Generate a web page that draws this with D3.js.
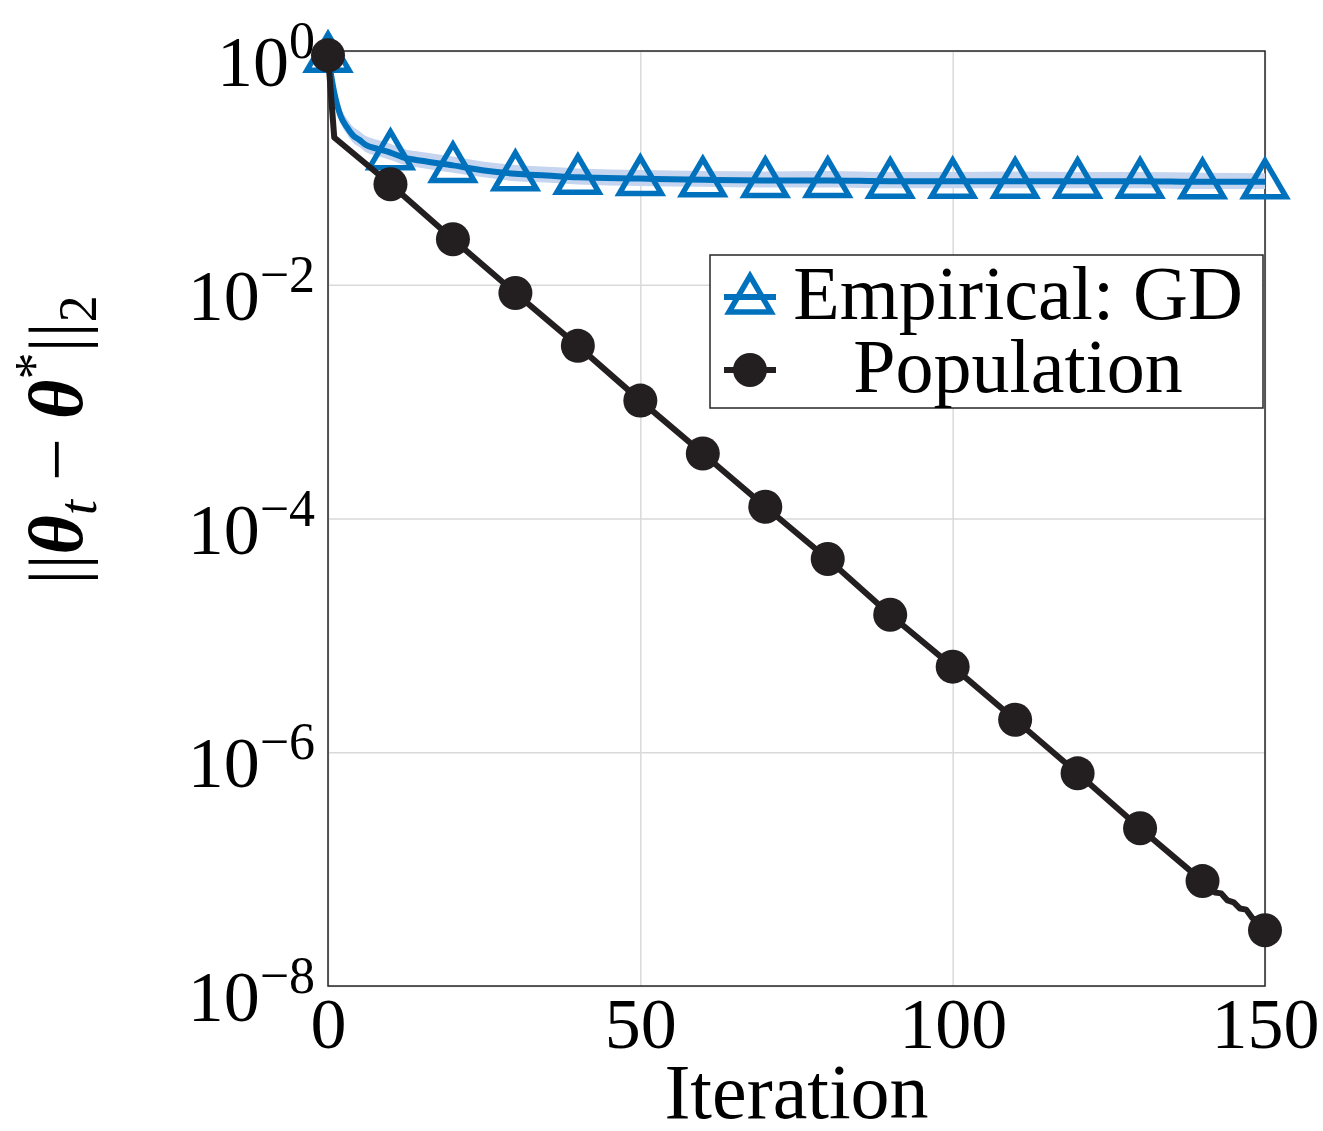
<!DOCTYPE html>
<html>
<head>
<meta charset="utf-8">
<script src="https://cdn.jsdelivr.net/npm/d3@7"></script>
<style>
  body { margin: 0; background: #fff; }
  text { font-family: "Liberation Serif", "DejaVu Serif", serif; fill: #000; }
</style>
</head>
<body>
<div id="wrapper"></div>
<script>
// data
const iterTicks = [0, 50, 100, 150];
const errTicks = [1, 1e-2, 1e-4, 1e-6, 1e-8];
const errTickExp = ["0", "\u22122", "\u22124", "\u22126", "\u22128"];

const empIter = [0, 1, 2, 3, 4, 5, 6, 8, 10, 12, 15, 20, 25, 30, 35, 40, 50, 60, 70, 80, 90, 100, 110, 120, 130, 140, 150];
const empMean = [0.92, 0.44, 0.28, 0.224, 0.19, 0.174, 0.158, 0.145, 0.135, 0.123, 0.115, 0.105, 0.095, 0.089, 0.086, 0.083, 0.081, 0.079, 0.078, 0.078, 0.077, 0.077, 0.077, 0.077, 0.077, 0.076, 0.076];
const empHigh = [0.95, 0.53, 0.33, 0.265, 0.225, 0.207, 0.188, 0.173, 0.161, 0.146, 0.137, 0.125, 0.113, 0.106, 0.102, 0.099, 0.096, 0.094, 0.093, 0.094, 0.092, 0.092, 0.093, 0.092, 0.092, 0.091, 0.090];
const empLow = [0.89, 0.38, 0.245, 0.195, 0.165, 0.151, 0.137, 0.126, 0.117, 0.107, 0.100, 0.091, 0.083, 0.077, 0.075, 0.072, 0.070, 0.069, 0.068, 0.068, 0.067, 0.067, 0.067, 0.067, 0.067, 0.066, 0.066];

const popIter = [0, 1, 10, 20, 30, 40, 50, 60, 70, 80, 90, 100, 110, 120, 130, 140, 142, 143, 144, 145, 146, 147, 148, 149, 150];
const popErr = [0.92, 0.182, 0.0724, 0.0245, 8.5e-3, 3.0e-3, 1.02e-3, 3.6e-4, 1.26e-4, 4.5e-5, 1.5e-5, 5.4e-6, 1.9e-6, 6.6e-7, 2.24e-7, 7.9e-8, 6.3e-8, 6.2e-8, 5.4e-8, 5.2e-8, 4.6e-8, 4.5e-8, 3.8e-8, 3.6e-8, 3.0e-8];

const seriesNames = ["Empirical: GD", "Population"];

// dimensions
let dimensions = {
  width: 1323,
  height: 1131,
  margin: { top: 51, right: 58, bottom: 145, left: 328 },
};
dimensions.boundedWidth = dimensions.width - dimensions.margin.left - dimensions.margin.right;
dimensions.boundedHeight = dimensions.height - dimensions.margin.top - dimensions.margin.bottom;

const blue = "#0072bd";
const black = "#231f20";

const wrapper = d3.select("#wrapper").append("svg")
  .attr("width", dimensions.width)
  .attr("height", dimensions.height);

const bounds = wrapper.append("g")
  .attr("transform", `translate(${dimensions.margin.left},${dimensions.margin.top})`);

// scales
const xScale = d3.scaleLinear().domain([0, 150]).range([0, dimensions.boundedWidth]);
const yScale = d3.scaleLog().domain([1e-8, 1]).range([dimensions.boundedHeight, 0]);

// grid
bounds.append("g")
  .call(d3.axisBottom(xScale).tickValues(iterTicks).tickSize(dimensions.boundedHeight).tickFormat(""))
  .call(g => g.select(".domain").remove())
  .call(g => g.selectAll("line").attr("stroke", "#d9d9d9").attr("stroke-width", 1.5));
bounds.append("g")
  .call(d3.axisLeft(yScale).tickValues(errTicks).tickSize(-dimensions.boundedWidth).tickFormat(""))
  .call(g => g.select(".domain").remove())
  .call(g => g.selectAll("line").attr("stroke", "#d9d9d9").attr("stroke-width", 1.5));

// box
bounds.append("rect")
  .attr("width", dimensions.boundedWidth)
  .attr("height", dimensions.boundedHeight)
  .attr("fill", "none")
  .attr("stroke", "#262626")
  .attr("stroke-width", 1.5);

// tick labels
const xAxis = bounds.append("g")
  .attr("transform", `translate(0,${dimensions.boundedHeight})`)
  .call(d3.axisBottom(xScale).tickValues(iterTicks).tickSize(0).tickFormat(d3.format("d")))
  .call(g => g.select(".domain").remove());
xAxis.selectAll("text")
  .attr("y", 62).attr("dy", null)
  .style("font-size", "72px")
  .style("font-family", "Liberation Serif");

const yLabels = bounds.append("g");
errTicks.forEach((v, i) => {
  const t = yLabels.append("text")
    .attr("x", -13)
    .attr("y", yScale(v) + 35)
    .attr("text-anchor", "end")
    .style("font-size", "72px");
  t.append("tspan").text("10");
  t.append("tspan").attr("dy", -28).style("font-size", "52px").text(errTickExp[i]);
});

// empirical band + line
const bandData = empIter.map((t, i) => ({ t, lo: empLow[i], hi: empHigh[i] }));
bounds.append("path")
  .datum(bandData)
  .attr("fill", "#c5d4ef")
  .attr("d", d3.area().x(d => xScale(d.t)).y0(d => yScale(d.lo)).y1(d => yScale(d.hi)).curve(d3.curveMonotoneX));

const empData = empIter.map((t, i) => ({ t, v: empMean[i] }));
bounds.append("path")
  .datum(empData)
  .attr("fill", "none")
  .attr("stroke", blue)
  .attr("stroke-width", 6)
  .attr("d", d3.line().x(d => xScale(d.t)).y(d => yScale(d.v)).curve(d3.curveMonotoneX));

const triPath = "M0,-21L21,15L-21,15Z";
bounds.selectAll(".tri")
  .data(empData.filter(d => d.t % 10 === 0))
  .enter().append("path")
  .attr("class", "tri")
  .attr("transform", d => `translate(${xScale(d.t)},${yScale(d.v)})`)
  .attr("d", triPath)
  .attr("fill", "none")
  .attr("stroke", blue)
  .attr("stroke-width", 5.5);

// population line
const popData = popIter.map((t, i) => ({ t, v: popErr[i] }));
bounds.append("path")
  .datum(popData)
  .attr("fill", "none")
  .attr("stroke", black)
  .attr("stroke-width", 6)
  .attr("stroke-linejoin", "round")
  .attr("d", d3.line().x(d => xScale(d.t)).y(d => yScale(d.v)));

bounds.selectAll(".dot")
  .data(popData.filter(d => d.t % 10 === 0))
  .enter().append("circle")
  .attr("class", "dot")
  .attr("cx", d => xScale(d.t))
  .attr("cy", d => yScale(d.v))
  .attr("r", 17)
  .attr("fill", black);

// axis labels
wrapper.append("text")
  .attr("x", dimensions.margin.left + dimensions.boundedWidth / 2)
  .attr("y", 1118)
  .attr("text-anchor", "middle")
  .style("font-size", "78px")
  .text("Iteration");

const yLab = wrapper.append("text")
  .attr("transform", "translate(82,440) rotate(-90)")
  .attr("text-anchor", "middle")
  .style("font-size", "76px");
yLab.append("tspan").text("||");
yLab.append("tspan").style("font-weight", "bold").style("font-style", "italic").text("\u03b8");
yLab.append("tspan").attr("dy", 14).style("font-style", "italic").style("font-size", "54px").text("t");
yLab.append("tspan").attr("dy", -14).text(" \u2212 ");
yLab.append("tspan").style("font-weight", "bold").style("font-style", "italic").text("\u03b8");
yLab.append("tspan").attr("dy", -30).style("font-size", "54px").text("*");
yLab.append("tspan").attr("dy", 30).text("||");
yLab.append("tspan").attr("dy", 14).style("font-size", "54px").text("2");

// legend
const legend = wrapper.append("g");
legend.append("rect")
  .attr("x", 710).attr("y", 255)
  .attr("width", 553).attr("height", 153)
  .attr("fill", "#fff")
  .attr("stroke", "#262626")
  .attr("stroke-width", 1.5);

const legendRows = [
  { name: seriesNames[0], y: 297, color: blue },
  { name: seriesNames[1], y: 370, color: black },
];
legendRows.forEach((r, i) => {
  legend.append("line")
    .attr("x1", 724).attr("x2", 776)
    .attr("y1", r.y).attr("y2", r.y)
    .attr("stroke", r.color).attr("stroke-width", 6);
  if (i === 0) {
    legend.append("path")
      .attr("transform", `translate(750,${r.y})`)
      .attr("d", triPath)
      .attr("fill", "none").attr("stroke", blue).attr("stroke-width", 5.5);
  } else {
    legend.append("circle").attr("cx", 750).attr("cy", r.y).attr("r", 17).attr("fill", black);
  }
  legend.append("text")
    .attr("x", 1018)
    .attr("y", r.y + 22)
    .attr("text-anchor", "middle")
    .style("font-size", "76px")
    .text(r.name);
});
</script>
</body>
</html>
